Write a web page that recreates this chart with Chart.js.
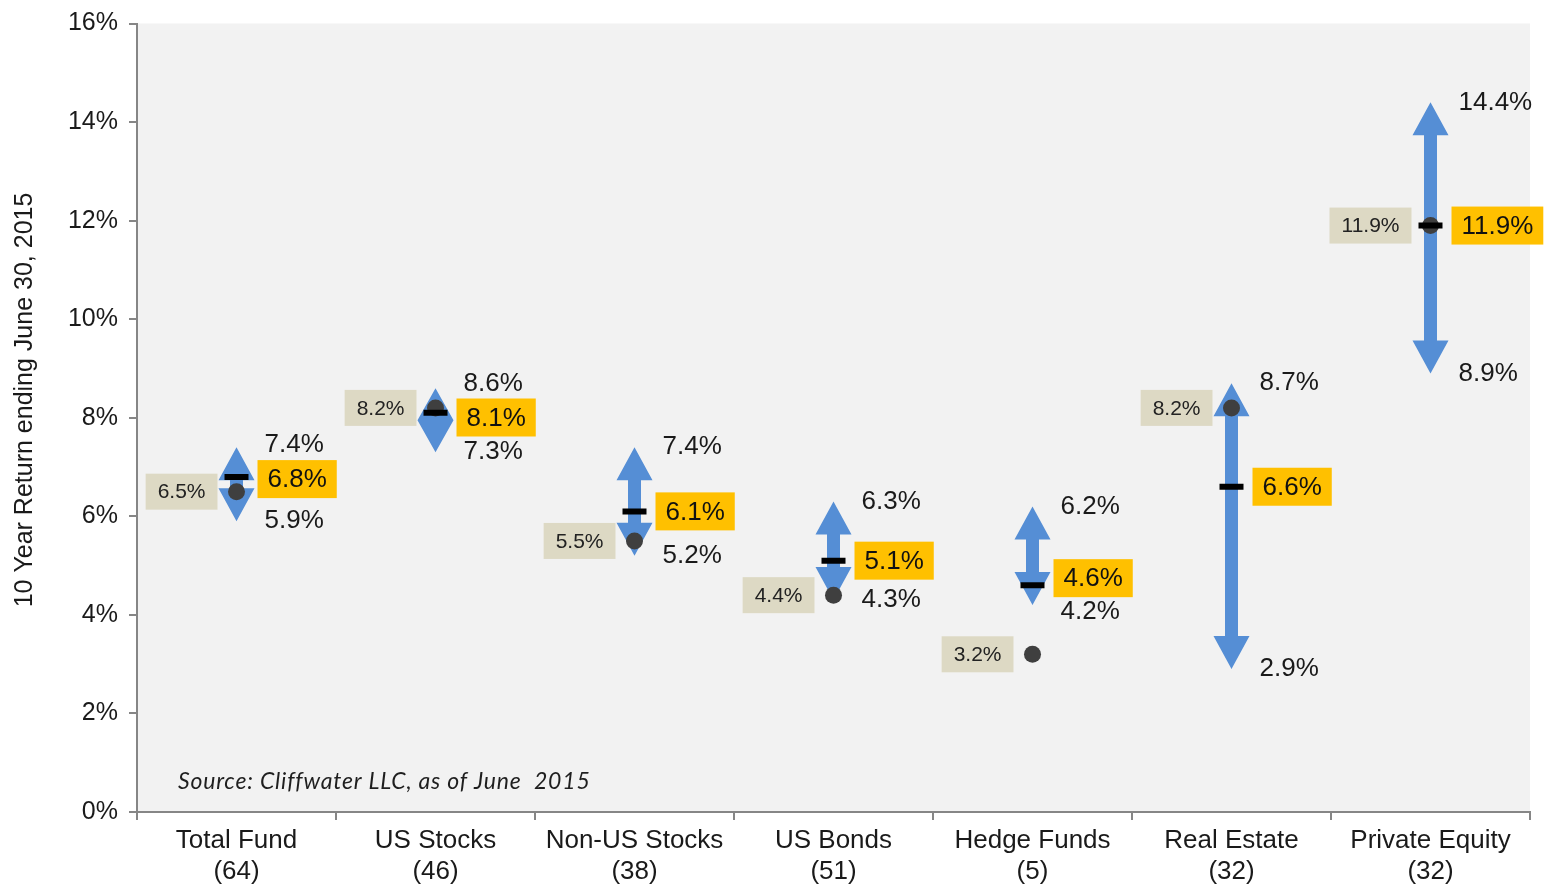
<!DOCTYPE html>
<html>
<head>
<meta charset="utf-8">
<script src="https://cdn.jsdelivr.net/npm/chart.js@4.4.1/dist/chart.umd.min.js"></script>
<style>
    html, body { margin: 0; padding: 0; background: #fff; }
    #wrap { width: 1548px; height: 886px; position: relative; }
</style>
</head>
<body>
<div id="wrap"><canvas id="returnsChart"></canvas></div>
<script>
// Chart data
const categories = [
    ['Total Fund', '(64)'],
    ['US Stocks', '(46)'],
    ['Non-US Stocks', '(38)'],
    ['US Bonds', '(51)'],
    ['Hedge Funds', '(5)'],
    ['Real Estate', '(32)'],
    ['Private Equity', '(32)']
];
const highValues = [7.4, 8.6, 7.4, 6.3, 6.2, 8.7, 14.4];
const lowValues = [5.9, 7.3, 5.2, 4.3, 4.2, 2.9, 8.9];
const medianValues = [6.8, 8.1, 6.1, 5.1, 4.6, 6.6, 11.9];
const dotValues = [6.5, 8.2, 5.5, 4.4, 3.2, 8.2, 11.9];
const yMin = 0;
const yMax = 16;
const yStep = 2;
const yTitle = '10 Year Return ending June 30, 2015';
const sourceNote = 'Source: Cliffwater LLC, as of June  2015';

const FONT = "Arial, 'Liberation Sans', sans-serif";

function fmt(v) {
    return v.toFixed(1) + '%';
}

// push the high label, median box and low label apart so they don't overlap
function spreadLabels(yHigh, yMed, yLow, gap) {
    let a = yHigh, b = yMed, c = yLow;
    if (b - a < gap) {
        const d = (gap - (b - a)) / 2;
        a -= d; b += d;
    }
    if (c - b < gap) {
        const d = (gap - (c - b)) / 2;
        b -= d; c += d;
    }
    return [a, b, c];
}

// plot area background + rotated axis title
const plotBackground = {
    id: 'plotBackground',
    beforeDraw(chart) {
        const { ctx, chartArea } = chart;
        ctx.save();
        ctx.fillStyle = '#f2f2f2';
        ctx.fillRect(chartArea.left, chartArea.top, chartArea.right - chartArea.left, chartArea.bottom - chartArea.top);

        ctx.translate(25, 400);
        ctx.rotate(-Math.PI / 2);
        ctx.font = '25px ' + FONT;
        ctx.fillStyle = '#1a1a1a';
        ctx.textAlign = 'center';
        ctx.textBaseline = 'middle';
        ctx.fillText(yTitle, 0, 0);
        ctx.restore();
    }
};

// double headed arrows from low to high
const rangeArrows = {
    id: 'rangeArrows',
    beforeDatasetsDraw(chart) {
        const ctx = chart.ctx;
        const xs = chart.scales.x;
        const ys = chart.scales.y;
        ctx.save();
        ctx.fillStyle = '#558ed5';
        for (let i = 0; i < categories.length; i++) {
            const x = xs.getPixelForValue(i);
            const yHi = ys.getPixelForValue(highValues[i]);
            const yLo = ys.getPixelForValue(lowValues[i]);
            const len = yLo - yHi;
            const head = Math.min(33, len / 2);
            const hw = 18;
            const sw = 6.5;
            ctx.beginPath();
            ctx.moveTo(x, yHi);
            ctx.lineTo(x + hw, yHi + head);
            ctx.lineTo(x + sw, yHi + head);
            ctx.lineTo(x + sw, yLo - head);
            ctx.lineTo(x + hw, yLo - head);
            ctx.lineTo(x, yLo);
            ctx.lineTo(x - hw, yLo - head);
            ctx.lineTo(x - sw, yLo - head);
            ctx.lineTo(x - sw, yHi + head);
            ctx.lineTo(x - hw, yHi + head);
            ctx.closePath();
            ctx.fill();
        }
        ctx.restore();
    }
};

// value labels and source note
const valueLabels = {
    id: 'valueLabels',
    afterDatasetsDraw(chart) {
        const ctx = chart.ctx;
        const xs = chart.scales.x;
        const ys = chart.scales.y;
        ctx.save();
        ctx.textBaseline = 'middle';
        for (let i = 0; i < categories.length; i++) {
            const x = xs.getPixelForValue(i);
            const [yh, ym, yl] = spreadLabels(
                ys.getPixelForValue(highValues[i]),
                ys.getPixelForValue(medianValues[i]),
                ys.getPixelForValue(lowValues[i]),
                34
            );

            // high / low
            ctx.font = '26px ' + FONT;
            ctx.fillStyle = '#1a1a1a';
            ctx.textAlign = 'left';
            ctx.fillText(fmt(highValues[i]), x + 28, yh);
            ctx.fillText(fmt(lowValues[i]), x + 28, yl);

            // median box (yellow)
            const mt = fmt(medianValues[i]);
            const mw = ctx.measureText(mt).width + 20;
            ctx.fillStyle = '#ffc000';
            ctx.fillRect(x + 21, ym - 19, mw, 38);
            ctx.fillStyle = '#111';
            ctx.fillText(mt, x + 31, ym + 1);

            // dot box (tan)
            ctx.font = '21px ' + FONT;
            const yd = ys.getPixelForValue(dotValues[i]);
            const dt = fmt(dotValues[i]);
            const dw = ctx.measureText(dt).width + 24;
            ctx.fillStyle = '#ddd9c4';
            ctx.fillRect(x - 19 - dw, yd - 18, dw, 36);
            ctx.fillStyle = '#222';
            ctx.fillText(dt, x - 19 - dw + 12, yd + 1);
        }

        ctx.font = "italic 23px Lato, 'Open Sans', sans-serif";
        ctx.letterSpacing = '0.8px';
        ctx.fillStyle = '#1f1f1f';
        ctx.textAlign = 'left';
        ctx.fillText(sourceNote, chart.chartArea.left + 41, 782);
        ctx.restore();
    }
};

const ctx = document.getElementById('returnsChart').getContext('2d');
const chart = new Chart(ctx, {
    type: 'line',
    data: {
        labels: categories,
        datasets: [
            {
                label: 'Median',
                data: medianValues,
                showLine: false,
                pointStyle: 'line',
                pointRadius: 12,
                pointBorderWidth: 6,
                pointBorderColor: '#000',
                pointBackgroundColor: '#000'
            },
            {
                label: 'Value',
                data: dotValues,
                showLine: false,
                pointStyle: 'circle',
                pointRadius: 8.5,
                pointBorderWidth: 0,
                pointBorderColor: '#3f3f3f',
                pointBackgroundColor: '#3f3f3f'
            }
        ]
    },
    options: {
        responsive: true,
        maintainAspectRatio: false,
        animation: false,
        devicePixelRatio: 1,
        layout: {
            padding: { top: 20, right: 18, left: 0, bottom: 0 }
        },
        plugins: {
            legend: { display: false },
            tooltip: { enabled: false }
        },
        scales: {
            x: {
                type: 'category',
                offset: true,
                afterFit(scale) { scale.height = 74; },
                grid: {
                    offset: true,
                    drawOnChartArea: false,
                    drawTicks: true,
                    tickLength: 8,
                    color: '#868686',
                    lineWidth: 2
                },
                border: { color: '#868686', width: 2 },
                ticks: {
                    color: '#1a1a1a',
                    font: { family: FONT, size: 26, lineHeight: 1.17 },
                    padding: 6,
                    maxRotation: 0,
                    autoSkip: false
                }
            },
            y: {
                min: yMin,
                max: yMax,
                afterFit(scale) { scale.width = 137; },
                grid: {
                    drawOnChartArea: false,
                    drawTicks: true,
                    tickLength: 8,
                    color: '#868686',
                    lineWidth: 2
                },
                border: { color: '#868686', width: 2 },
                ticks: {
                    stepSize: yStep,
                    color: '#1a1a1a',
                    font: { family: FONT, size: 25, lineHeight: 1 },
                    padding: 11,
                    callback: v => v + '%'
                }
            }
        }
    },
    plugins: [plotBackground, rangeArrows, valueLabels]
});
</script>
</body>
</html>
